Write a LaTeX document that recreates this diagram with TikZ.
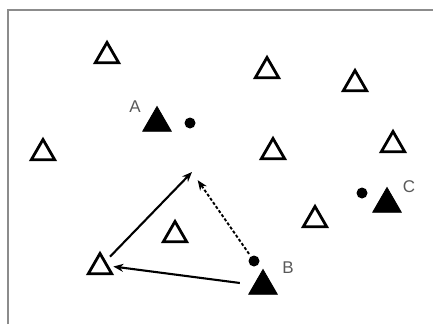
\documentclass[tikz,border=0pt]{standalone}
\usepackage{fontspec}
\setsansfont{Liberation Sans}
\usetikzlibrary{arrows.meta,shapes.geometric}

\begin{document}
\begin{tikzpicture}[
  x=1pt,y=-1pt,
  font=\sffamily,
  >={Stealth[length=10pt,width=8pt]},
  open/.style={regular polygon,regular polygon sides=3,draw,line width=2.8pt,
               inner sep=0pt,minimum size=27pt},
  solid/.style={regular polygon,regular polygon sides=3,fill=black,draw=black,
                line width=0.8pt,inner sep=0pt,minimum size=33pt},
  dot/.style={circle,fill=black,inner sep=0pt,minimum size=11pt},
  lbl/.style={font=\sffamily\fontsize{17}{17}\selectfont,text=black!65},
  flow/.style={->,line width=2.1pt},
  probe/.style={->,line width=1.9pt,dash pattern=on 3pt off 2pt},
]
\useasboundingbox (0,0) rectangle (433,324);

% --- frame (only top and left edges show) ---
\draw[black!45,line width=1.5pt] (8,324) -- (8,10) -- (433,10);

% --- open triangles ---
\node[open] (t1) at (107,56)  {};
\node[open] (t2) at (267,71)  {};
\node[open] (t3) at (355,84)  {};
\node[open] (t4) at (43,153)  {};
\node[open] (t5) at (273,152) {};
\node[open] (t6) at (393,145) {};
\node[open] (t7) at (315,220) {};
\node[open] (t8) at (175,235) {};
\node[open] (tl) at (100,267) {};

% --- filled triangles, their dots and labels ---
\node[solid] (ta) at (157,123) {};
\node[dot]   (da) at (190,123) {};
\node[lbl]   (la) at (135,107) {A};

\node[solid] (tc) at (387,204) {};
\node[dot]   (dc) at (362,193) {};
\node[lbl]   (lc) at (409,187) {C};

\node[solid] (tb) at (263,286) {};
\node[dot]   (db) at (254,261) {};
\node[lbl]   (lb) at (288,268) {B};

% --- moves ---
\coordinate (goal) at (192,172);
\draw[flow]  (tb) -- ([shift={(0,-1)}]tl.east) [shorten <=14pt,shorten >=4pt];
\draw[flow,shorten <=6pt] (tl) -- (goal);
\draw[probe,shorten <=3pt,shorten >=10pt] (db) -- (goal);

\end{tikzpicture}
\end{document}
